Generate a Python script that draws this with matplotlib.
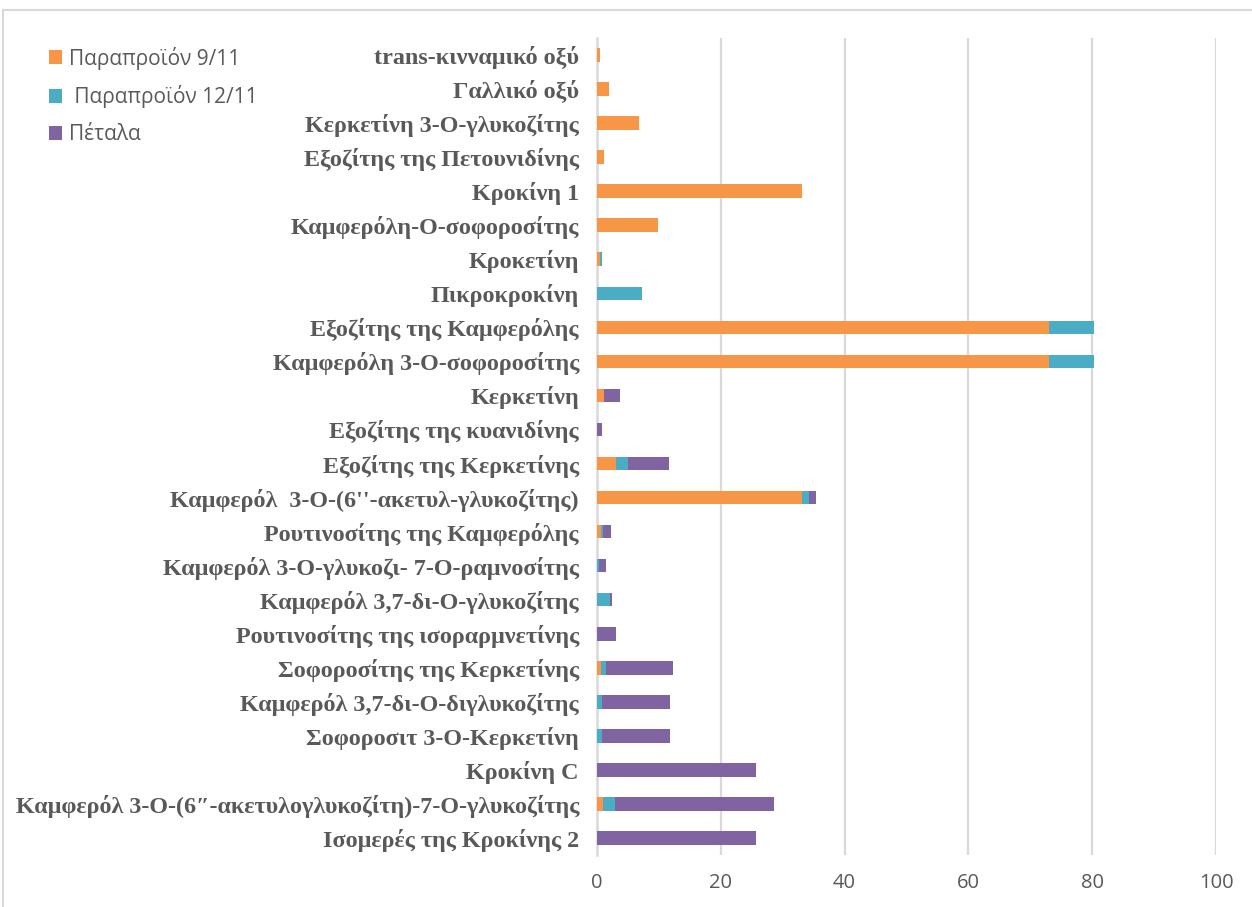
import matplotlib.pyplot as plt
import numpy as np
from matplotlib.lines import Line2D

# Ενώσεις (από πάνω προς τα κάτω)
compounds = [
    'trans-κινναμικό οξύ',
    'Γαλλικό οξύ',
    'Κερκετίνη 3-Ο-γλυκοζίτης',
    'Εξοζίτης της Πετουνιδίνης',
    'Κροκίνη 1',
    'Καμφερόλη-Ο-σοφοροσίτης',
    'Κροκετίνη',
    'Πικροκροκίνη',
    'Εξοζίτης της Καμφερόλης',
    'Καμφερόλη 3-Ο-σοφοροσίτης',
    'Κερκετίνη',
    'Εξοζίτης της κυανιδίνης',
    'Εξοζίτης της Κερκετίνης',
    "Καμφερόλ  3-Ο-(6''-ακετυλ-γλυκοζίτης)",
    'Ρουτινοσίτης της Καμφερόλης',
    'Καμφερόλ 3-Ο-γλυκοζι- 7-Ο-ραμνοσίτης',
    'Καμφερόλ 3,7-δι-Ο-γλυκοζίτης',
    'Ρουτινοσίτης της ισοραρμνετίνης',
    'Σοφοροσίτης της Κερκετίνης',
    'Καμφερόλ 3,7-δι-Ο-διγλυκοζίτης',
    'Σοφοροσιτ 3-Ο-Κερκετίνη',
    'Κροκίνη C',
    'Καμφερόλ 3-Ο-(6″-ακετυλογλυκοζίτη)-7-Ο-γλυκοζίτης',
    'Ισομερές της Κροκίνης 2',
]

byproduct_9_11 = [0.5, 2.0, 6.8, 1.1, 33.1, 9.8, 0.5, 0.0, 73.0, 73.0, 1.1, 0.0,
                  3.0, 33.1, 0.7, 0.0, 0.0, 0.0, 0.65, 0.0, 0.0, 0.0, 1.0, 0.0]
byproduct_12_11 = [0.0, 0.0, 0.0, 0.0, 0.0, 0.0, 0.3, 7.3, 7.3, 7.3, 0.1, 0.0,
                   2.0, 1.2, 0.2, 0.3, 2.15, 0.0, 0.8, 0.87, 0.87, 0.0, 1.85, 0.0]
petals = [0.0, 0.0, 0.0, 0.0, 0.0, 0.0, 0.0, 0.0, 0.0, 0.0, 2.5, 0.8,
          6.7, 1.0, 1.4, 1.2, 0.35, 3.0, 10.9, 10.9, 10.9, 25.7, 25.7, 25.7]

series_labels = ['Παραπροϊόν 9/11', ' Παραπροϊόν 12/11', 'Πέταλα']
colors = ['#F79646', '#4BACC6', '#8064A2']

fig = plt.figure(figsize=(12.52, 9.07), dpi=100)
ax = fig.add_axes([597 / 1252, 1 - 855 / 907, (1216 - 597) / 1252, (855 - 38) / 907])

y = np.arange(len(compounds))
left = np.zeros(len(compounds))
for vals, lab, col in zip([byproduct_9_11, byproduct_12_11, petals], series_labels, colors):
    vals = np.array(vals)
    ax.barh(y, vals, left=left, height=0.4, color=col, label=lab, zorder=3)
    left += vals

ax.set_ylim(len(compounds) - 0.5, -0.5)
ax.set_xlim(0, 100)
ax.set_xticks([0, 20, 40, 60, 80, 100])
ax.set_yticks(y)
ax.set_yticklabels(compounds, family='Liberation Serif', fontweight='bold',
                   fontsize=17.4, color='#595959')
ax.tick_params(axis='y', length=0, pad=13)
ax.tick_params(axis='x', length=0, pad=13, labelsize=14.5, labelcolor='#595959')
for t in ax.get_xticklabels():
    t.set_family('Open Sans')

ax.grid(axis='x', color='#d9d9d9', linewidth=1.6, zorder=0)
for s in ['top', 'right', 'bottom']:
    ax.spines[s].set_visible(False)
ax.spines['left'].set_color('#d9d9d9')
ax.spines['left'].set_linewidth(1.8)

# Πλαίσιο γραφήματος
fig.add_artist(Line2D([3 / 1252, 1], [1 - 10 / 907, 1 - 10 / 907],
                      transform=fig.transFigure, color='#d9d9d9', linewidth=1.5))
fig.add_artist(Line2D([3 / 1252, 3 / 1252], [0, 1 - 10 / 907],
                      transform=fig.transFigure, color='#d9d9d9', linewidth=1.5))

leg = fig.legend(loc='upper left', bbox_to_anchor=(30 / 1252, 1 - 28 / 907),
                 frameon=False, handlelength=0.65, handleheight=0.65,
                 handletextpad=0.3, labelspacing=0.75,
                 prop={'family': 'Open Sans', 'size': 15})
for t in leg.get_texts():
    t.set_color('#595959')

fig.savefig('out.png', dpi=100)
